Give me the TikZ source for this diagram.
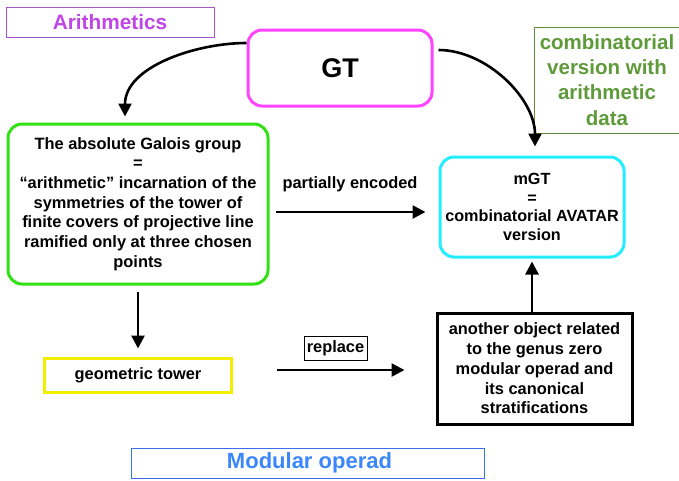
\documentclass[tikz,border=0pt]{standalone}
\usepackage{fontspec}
\setmainfont{Liberation Sans}
\usetikzlibrary{arrows.meta,calc}
\definecolor{arithc}{HTML}{C045E6}
\definecolor{arithb}{HTML}{A855C8}
\definecolor{gtc}{HTML}{FF44FF}
\definecolor{galc}{HTML}{33E014}
\definecolor{mgtc}{HTML}{22EEFF}
\definecolor{geoc}{HTML}{F2F000}
\definecolor{combc}{HTML}{5E9A3A}
\definecolor{combb}{HTML}{5E8A3A}
\definecolor{modc}{HTML}{3A86FA}
\definecolor{modb}{HTML}{3A6EF0}
\begin{document}
\begin{tikzpicture}[x=1pt,y=-1pt,
  base/.style={align=center,inner sep=0pt,font=\bfseries\fontsize{16.4}{19.7}\selectfont},
  thinbox/.style={base,draw,line width=1pt},
  thickbox/.style={base,draw,line width=3pt},
  roundbox/.style={thickbox,rounded corners=14pt},
  arr/.style={line width=2.6pt,-{Triangle[length=13pt,width=13pt]}}]
\useasboundingbox (0,0) rectangle (679,480);
\node[thinbox,draw=arithb,text=arithc,minimum width=208pt,minimum height=30pt,
  font=\bfseries\fontsize{20.8}{24}\selectfont] (arith) at (110,22) {Arithmetics};
\node[roundbox,draw=gtc,minimum width=184pt,minimum height=76pt,
  font=\bfseries\fontsize{27}{30}\selectfont] (gt) at (340,68) {GT};
\node[thinbox,draw=combb,text=combc,minimum width=145pt,minimum height=106pt,
  font=\bfseries\fontsize{20.5}{25.3}\selectfont] (comb) at (607,80)
  {combinatorial\\version with\\arithmetic\\data};
\node[roundbox,draw=galc,minimum width=260pt,minimum height=160pt] (gal) at (138,204)
  {The absolute Galois group\\=\\“arithmetic” incarnation of the\\symmetries of the tower of\\finite covers of projective line\\ramified only at three chosen\\points};
\node[roundbox,draw=mgtc,minimum width=184pt,minimum height=100pt,
  font=\bfseries\fontsize{16.2}{18.8}\selectfont] (mgt) at (532,207)
  {mGT\\=\\combinatorial AVATAR\\version};
\node[base] (pe) at (350,184) {partially encoded};
\node[thickbox,draw=geoc,minimum width=187pt,minimum height=34pt] (geo) at (138,375) {geometric tower};
\node[thinbox,minimum width=63pt,minimum height=24pt] (repl) at (335.5,348) {replace};
\node[thickbox,minimum width=195pt,minimum height=111pt] (anoth) at (534.5,368.5)
  {another object related\\to the genus zero\\modular operad and\\its canonical\\stratifications};
\node[thinbox,draw=modb,text=modc,minimum width=353pt,minimum height=30pt,
  font=\bfseries\fontsize{22}{26}\selectfont] (mod) at (307.5,463) {\hspace*{4pt}Modular operad};
% connectors
\draw[arr] ([yshift=25pt]gt.west) to[out=180,in=90,looseness=0.9] ([xshift=-13pt,yshift=6pt]gal.north);
\draw[arr] ([xshift=5pt,yshift=18pt]gt.east) to[out=0,in=90,looseness=0.9] ([xshift=3pt,yshift=9pt]mgt.north);
\draw[arr] ([xshift=6pt,yshift=-8pt]gal.east) -- ([xshift=-13pt,yshift=-5pt]mgt.west);
\draw[arr] ([yshift=-6pt]gal.south) -- ([yshift=8pt]geo.north);
\draw[arr] ([xshift=44pt,yshift=5pt]geo.east) -- ([xshift=-31pt,yshift=-1.5pt]anoth.west);
\draw[arr] ([xshift=-2.5pt]anoth.north) -- ([xshift=-2.5pt,yshift=-3pt]anoth.north |- mgt.south);
\end{tikzpicture}
\end{document}
